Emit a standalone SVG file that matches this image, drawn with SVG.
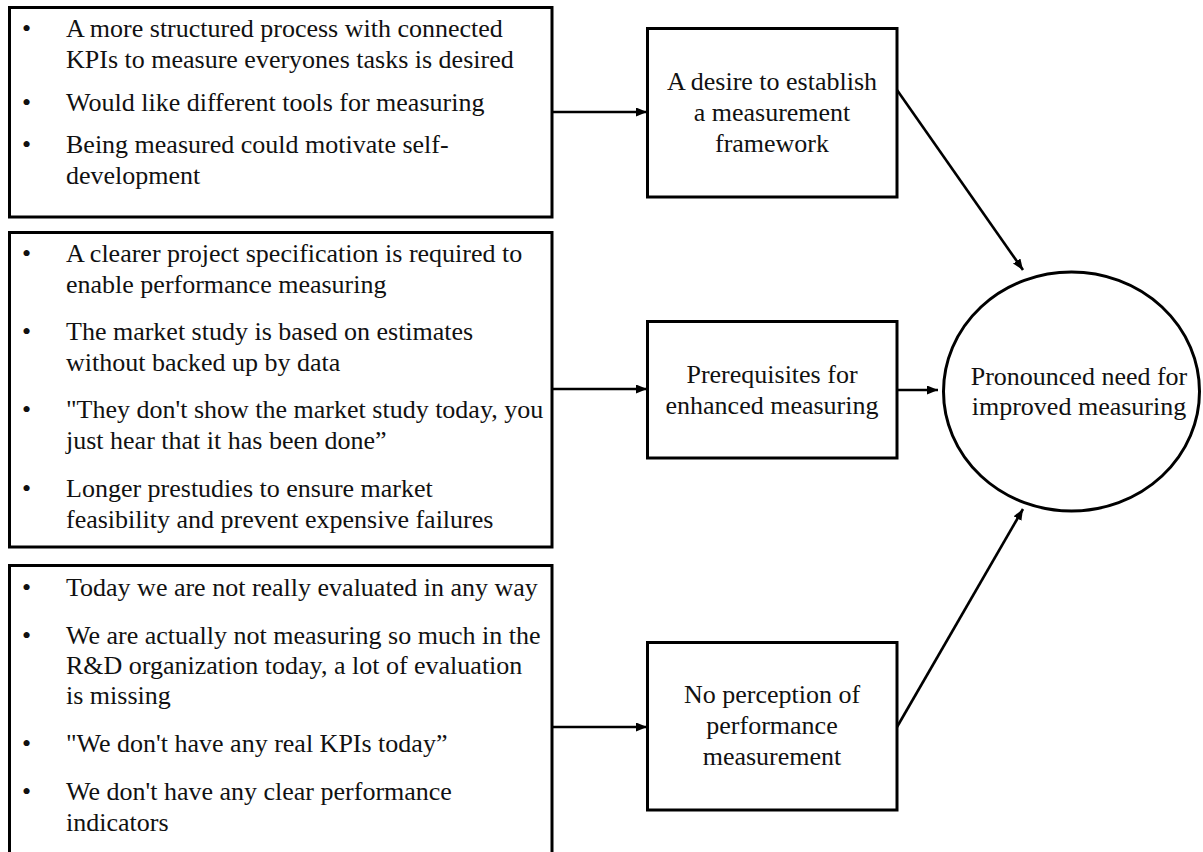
<svg xmlns="http://www.w3.org/2000/svg" width="1203" height="852" viewBox="0 0 1203 852">
  <style>
    .box { fill: #ffffff; stroke: #000000; stroke-width: 3; }
    .txt { font-family: "Liberation Serif", "Times New Roman", serif; font-size: 26px; fill: #111111; }
    .mid { text-anchor: middle; }
    .edge { fill: none; stroke: #000000; stroke-width: 2.6; }
  </style>
  <defs>
    <marker id="arrow" markerUnits="userSpaceOnUse" markerWidth="12" markerHeight="10" refX="11" refY="4.5" orient="auto">
      <path d="M0,0 L11,4.5 L0,9 z" fill="#000000"/>
    </marker>
  </defs>

  <!-- evidence box: measurement framework -->
  <g id="evidence-framework">
    <rect class="box" x="9.5" y="7.5" width="542.5" height="209.5"/>
    <g class="txt">
      <text x="22" y="37">•</text>
      <text x="66" y="37">A more structured process with connected</text>
      <text x="66" y="68">KPIs to measure everyones tasks is desired</text>
      <text x="22" y="111">•</text>
      <text x="66" y="111">Would like different tools for measuring</text>
      <text x="22" y="153">•</text>
      <text x="66" y="153">Being measured could motivate self-</text>
      <text x="66" y="184">development</text>
    </g>
  </g>

  <!-- evidence box: prerequisites -->
  <g id="evidence-prerequisites">
    <rect class="box" x="9.5" y="232.5" width="542.5" height="314.5"/>
    <g class="txt">
      <text x="22" y="262">•</text>
      <text x="66" y="262">A clearer project specification is required to</text>
      <text x="66" y="293">enable performance measuring</text>
      <text x="22" y="340">•</text>
      <text x="66" y="340">The market study is based on estimates</text>
      <text x="66" y="371">without backed up by data</text>
      <text x="22" y="418">•</text>
      <text x="66" y="418">"They don't show the market study today, you</text>
      <text x="66" y="449">just hear that it has been done”</text>
      <text x="22" y="497">•</text>
      <text x="66" y="497">Longer prestudies to ensure market</text>
      <text x="66" y="528">feasibility and prevent expensive failures</text>
    </g>
  </g>

  <!-- evidence box: no perception (runs past the bottom edge) -->
  <g id="evidence-no-perception">
    <rect class="box" x="9.5" y="565.5" width="542.5" height="310"/>
    <g class="txt">
      <text x="22" y="596">•</text>
      <text x="66" y="596">Today we are not really evaluated in any way</text>
      <text x="22" y="644">•</text>
      <text x="66" y="644">We are actually not measuring so much in the</text>
      <text x="66" y="674">R&amp;D organization today, a lot of evaluation</text>
      <text x="66" y="704">is missing</text>
      <text x="22" y="752">•</text>
      <text x="66" y="752">"We don't have any real KPIs today”</text>
      <text x="22" y="800">•</text>
      <text x="66" y="800">We don't have any clear performance</text>
      <text x="66" y="831">indicators</text>
    </g>
  </g>

  <!-- theme boxes -->
  <g id="theme-framework">
    <rect class="box" x="647.5" y="28.5" width="249.5" height="168.5"/>
    <g class="txt mid">
      <text x="772" y="90">A desire to establish</text>
      <text x="772" y="121">a measurement</text>
      <text x="772" y="152">framework</text>
    </g>
  </g>

  <g id="theme-prerequisites">
    <rect class="box" x="647.5" y="321.5" width="249.5" height="136.5"/>
    <g class="txt mid">
      <text x="772" y="383">Prerequisites for</text>
      <text x="772" y="414">enhanced measuring</text>
    </g>
  </g>

  <g id="theme-no-perception">
    <rect class="box" x="647.5" y="642.5" width="249.5" height="167.5"/>
    <g class="txt mid">
      <text x="772" y="703">No perception of</text>
      <text x="772" y="734">performance</text>
      <text x="772" y="765">measurement</text>
    </g>
  </g>

  <!-- aggregate theme -->
  <g id="theme-need">
    <ellipse cx="1071.5" cy="391.5" rx="128" ry="119.5" fill="#ffffff" stroke="#000000" stroke-width="3"/>
    <g class="txt mid">
      <text x="1079" y="385">Pronounced need for</text>
      <text x="1079" y="415">improved measuring</text>
    </g>
  </g>

  <!-- connectors -->
  <g id="connectors" class="edge">
    <line x1="552" y1="112" x2="647" y2="112" marker-end="url(#arrow)"/>
    <line x1="552" y1="389" x2="647" y2="389" marker-end="url(#arrow)"/>
    <line x1="552" y1="727" x2="647" y2="727" marker-end="url(#arrow)"/>
    <line x1="897" y1="90" x2="1023" y2="270" marker-end="url(#arrow)"/>
    <line x1="897" y1="390" x2="938" y2="390" marker-end="url(#arrow)"/>
    <line x1="897" y1="727" x2="1023" y2="509" marker-end="url(#arrow)"/>
  </g>
</svg>
